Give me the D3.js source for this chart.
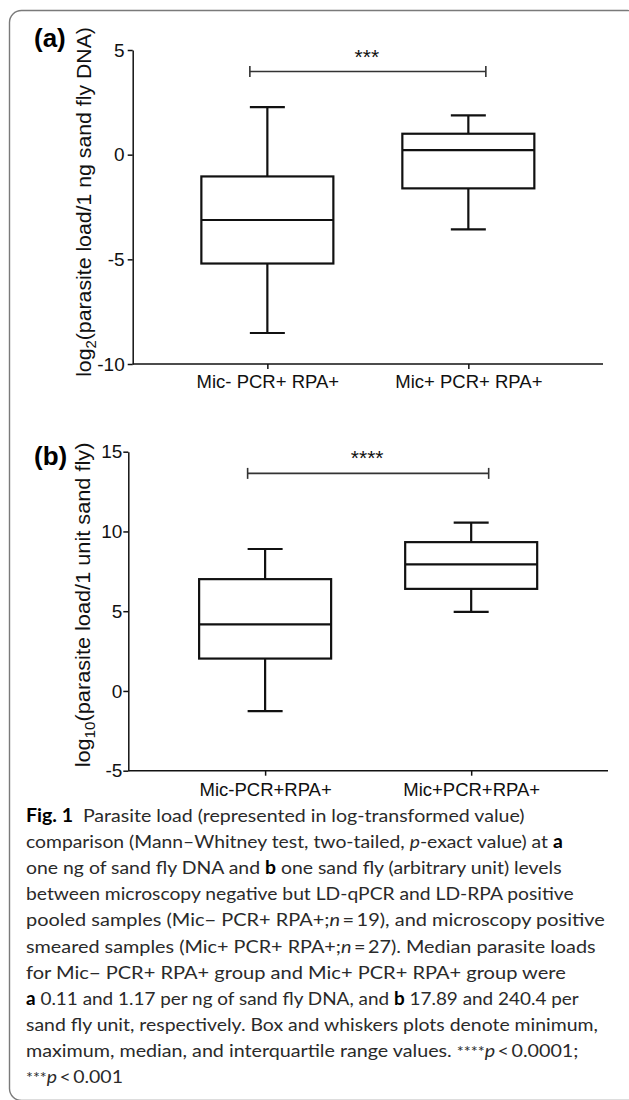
<!DOCTYPE html>
<html>
<head>
<meta charset="utf-8">
<script src="https://cdn.jsdelivr.net/npm/d3@7"></script>
<style>
  html, body { margin: 0; padding: 0; background: #fff; }
  svg { display: block; }
</style>
</head>
<body>
<svg id="chart" width="629" height="1100"></svg>
<script>
// ---------- DATA ----------
const catsA = ["Mic- PCR+ RPA+", "Mic+ PCR+ RPA+"];
const minA = [-8.52, -3.57];
const q1A  = [-5.20, -1.61];
const medA = [-3.12, 0.22];
const q3A  = [-1.04, 1.00];
const maxA = [2.27, 1.88];
const ticksA = [-10, -5, 0, 5];
const sigA = { y: 3.97, label: "***" };

const catsB = ["Mic-PCR+RPA+", "Mic+PCR+RPA+"];
const minB = [-1.26, 4.96];
const q1B  = [2.03, 6.40];
const medB = [4.17, 7.93];
const q3B  = [7.01, 9.33];
const maxB = [8.90, 10.55];
const ticksB = [-5, 0, 5, 10, 15];
const sigB = { y: 13.64, label: "****" };

const captionLines = [
  [["b","Fig. 1"],["n","\u2002Parasite load (represented in log-transformed value)"]],
  [["n","comparison (Mann\u2013Whitney test, two-tailed, "],["i","p"],["n","-exact value) at "],["b","a"]],
  [["n","one ng of sand fly DNA and "],["b","b"],["n"," one sand fly (arbitrary unit) levels"]],
  [["n","between microscopy negative but LD-qPCR and LD-RPA positive"]],
  [["n","pooled samples (Mic\u2212 PCR+ RPA+;"],["i","n"],["n","\u2009=\u200919), and microscopy positive"]],
  [["n","smeared samples (Mic+ PCR+ RPA+;"],["i","n"],["n","\u2009=\u200927). Median parasite loads"]],
  [["n","for Mic\u2212 PCR+ RPA+ group and Mic+ PCR+ RPA+ group were"]],
  [["b","a"],["n"," 0.11 and 1.17 per ng of sand fly DNA, and "],["b","b"],["n"," 17.89 and 240.4 per"]],
  [["n","sand fly unit, respectively. Box and whiskers plots denote minimum,"]],
  [["n","maximum, median, and interquartile range values. "],["s","****"],["i","p"],["n","\u2009<\u20090.0001;"]],
  [["s","***"],["i","p"],["n","\u2009<\u20090.001"]]
];
const captionEnds = [525, 563, 562, 574, 605, 596, 566, 579, 598, 579, 123];

// ---------- DRAW ----------
const svg = d3.select("#chart");
const chartFont = "'Liberation Sans', Arial, sans-serif";

// frame
svg.append("rect")
  .attr("x", 9.5).attr("y", 10.5)
  .attr("width", 630).attr("height", 1090)
  .attr("rx", 12).attr("ry", 12)
  .attr("fill", "none").attr("stroke", "#7a7a7a").attr("stroke-width", 1.4);

function panel(opt) {
  const g = svg.append("g");
  const y = d3.scaleLinear().domain(opt.domain).range([opt.yBottom, opt.yTop]);
  const x = d3.scalePoint().domain(opt.cats).range([opt.x0, opt.x1]).padding(opt.pad);
  const boxW = 132, capW = 35;

  // y axis
  const yAx = g.append("g")
    .attr("transform", `translate(${opt.x0},0)`)
    .call(d3.axisLeft(y).tickValues(opt.ticks).tickFormat(d => String(d))
      .tickSize(5).tickSizeOuter(0).tickPadding(opt.yPad));
  yAx.select(".domain").attr("stroke", "#111").attr("stroke-width", 1.5);
  yAx.selectAll(".tick line").attr("stroke", "#111").attr("stroke-width", 1.5);
  yAx.selectAll("text").attr("font-family", chartFont).attr("font-size", 19).attr("fill", "#111");

  // x axis
  const xAx = g.append("g")
    .attr("transform", `translate(0,${opt.yBottom})`)
    .call(d3.axisBottom(x).tickSize(5).tickSizeOuter(0).tickPadding(opt.xPad));
  xAx.select(".domain").attr("stroke", "#111").attr("stroke-width", 1.5)
    .attr("d", `M${opt.x0},0H${opt.x1}`);
  xAx.selectAll(".tick line").attr("stroke", "#111").attr("stroke-width", 1.5);
  xAx.selectAll("text").attr("font-family", chartFont).attr("font-size", 18.5).attr("fill", "#111");

  // boxes
  const data = opt.cats.map((c, i) => ({c, min: opt.min[i], q1: opt.q1[i], med: opt.med[i], q3: opt.q3[i], max: opt.max[i]}));
  const bg = g.selectAll(".box").data(data).enter().append("g")
    .attr("fill", "none").attr("stroke", "#111").attr("stroke-width", 2.2);
  bg.append("line").attr("x1", d => x(d.c)).attr("x2", d => x(d.c))
    .attr("y1", d => y(d.max)).attr("y2", d => y(d.q3));
  bg.append("line").attr("x1", d => x(d.c)).attr("x2", d => x(d.c))
    .attr("y1", d => y(d.q1)).attr("y2", d => y(d.min));
  bg.append("line").attr("x1", d => x(d.c) - capW/2).attr("x2", d => x(d.c) + capW/2)
    .attr("y1", d => y(d.max)).attr("y2", d => y(d.max));
  bg.append("line").attr("x1", d => x(d.c) - capW/2).attr("x2", d => x(d.c) + capW/2)
    .attr("y1", d => y(d.min)).attr("y2", d => y(d.min));
  bg.append("rect").attr("x", d => x(d.c) - boxW/2).attr("width", boxW)
    .attr("y", d => y(d.q3)).attr("height", d => y(d.q1) - y(d.q3)).attr("fill", "#fff");
  bg.append("line").attr("x1", d => x(d.c) - boxW/2).attr("x2", d => x(d.c) + boxW/2)
    .attr("y1", d => y(d.med)).attr("y2", d => y(d.med));

  // significance bracket
  const bx1 = x(opt.cats[0]) - capW/2, bx2 = x(opt.cats[1]) + capW/2, by = y(opt.sig.y);
  const br = g.append("g").attr("stroke", "#333").attr("stroke-width", 1.6);
  br.append("line").attr("x1", bx1).attr("x2", bx2).attr("y1", by).attr("y2", by);
  br.append("line").attr("x1", bx1).attr("x2", bx1).attr("y1", by - 5.5).attr("y2", by + 5.5);
  br.append("line").attr("x1", bx2).attr("x2", bx2).attr("y1", by - 5.5).attr("y2", by + 5.5);
  g.append("text").attr("x", (bx1 + bx2) / 2 - 1).attr("y", by - opt.starGap)
    .attr("text-anchor", "middle").attr("font-family", chartFont).attr("font-size", opt.starSize)
    .attr("fill", "#111").text(opt.sig.label);

  // y label
  const yl = g.append("text")
    .attr("transform", `translate(${opt.ylX},${opt.ylY}) rotate(-90)`)
    .attr("text-anchor", "middle").attr("font-family", chartFont).attr("font-size", opt.ylSize).attr("fill", "#111");
  yl.append("tspan").text("log");
  yl.append("tspan").attr("font-size", opt.ylSize * 0.7).attr("dy", 4.5).text(opt.sub);
  yl.append("tspan").attr("dy", -4.5).text(opt.ylText);
  const lw = yl.node().getComputedTextLength();
  yl.attr("textLength", null);
  // stretch to the measured span of the reference label
  yl.attr("transform", `translate(${opt.ylX},${opt.ylY}) rotate(-90) scale(${opt.ylLen / lw},1)`);

  // panel letter
  g.append("text").attr("x", 34).attr("y", opt.letterY)
    .attr("font-family", chartFont).attr("font-weight", "bold").attr("font-size", 26)
    .attr("fill", "#000").text(opt.letter);
}

panel({
  cats: catsA, min: minA, q1: q1A, med: medA, q3: q3A, max: maxA,
  domain: [-10, 5], ticks: ticksA, sig: sigA,
  x0: 132.7, x1: 603, pad: 0.67, yTop: 50, yBottom: 364,
  yPad: 3, xPad: 6, starSize: 21, starGap: 8,
  sub: "2", ylText: "(parasite load/1 ng sand fly DNA)", ylX: 91, ylY: 202, ylSize: 20.5, ylLen: 350,
  letter: "(a)", letterY: 47
});

panel({
  cats: catsB, min: minB, q1: q1B, med: medB, q3: q3B, max: maxB,
  domain: [-5, 15], ticks: ticksB, sig: sigB,
  x0: 128.3, x1: 608, pad: 0.664, yTop: 451.7, yBottom: 770.7,
  yPad: 1, xPad: 7, starSize: 21, starGap: 8,
  sub: "10", ylText: "(parasite load/1 unit sand fly)", ylX: 90, ylY: 605, ylSize: 20.5, ylLen: 325,
  letter: "(b)", letterY: 465
});

// caption
const capFont = "Lato, 'Open Sans', sans-serif";
const capX = 26, capY0 = 821.7, capDY = 26.17;
captionLines.forEach((parts, i) => {
  const t = svg.append("text")
    .attr("x", capX).attr("y", capY0 + i * capDY)
    .attr("font-family", capFont).attr("font-size", 18).attr("fill", "#2a2a2a");
  parts.forEach(([s, txt]) => {
    const ts = t.append("tspan").text(txt);
    if (s === "b") ts.attr("font-weight", "bold").attr("fill", "#000");
    if (s === "i") ts.attr("font-style", "italic");
    if (s === "s") ts.attr("font-size", 15);
  });
  const w = t.node().getComputedTextLength();
  const target = captionEnds[i] - capX;
  const sx = target / w;
  t.attr("transform", `translate(${capX},0) scale(${sx},1) translate(${-capX},0)`);
});
</script>
</body>
</html>
